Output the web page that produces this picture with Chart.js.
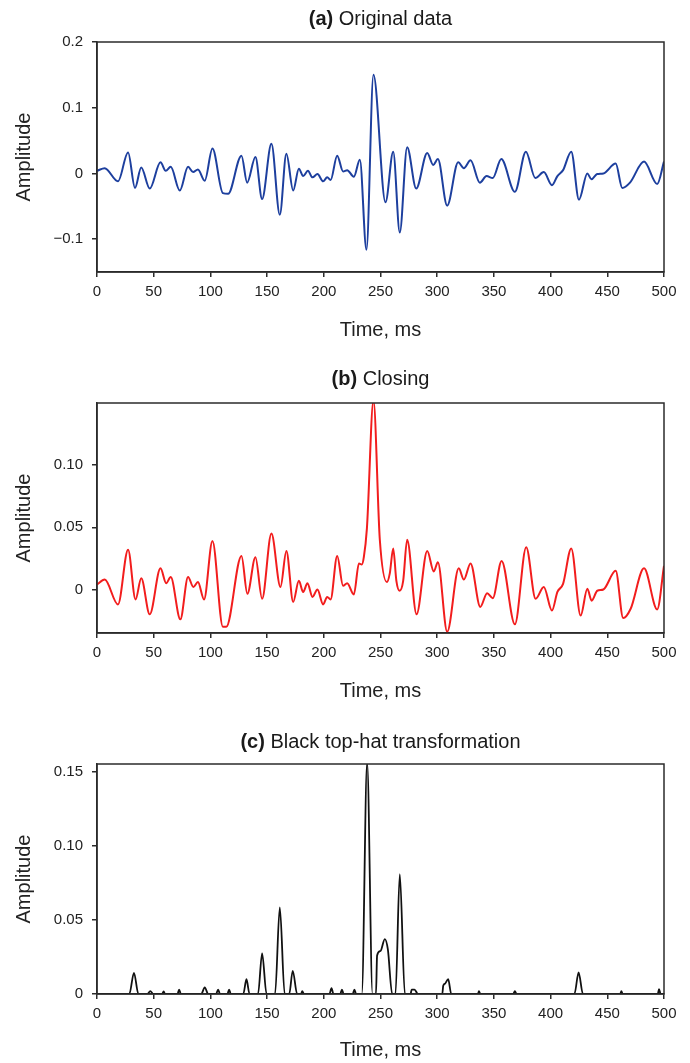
<!DOCTYPE html>
<html lang="en">
<head>
  <meta charset="UTF-8">
  <title>Black top-hat transformation</title>
  <style>
    body {
      margin: 0;
      width: 690px;
      height: 1063px;
      position: relative;
      overflow: hidden;
      background: #fff;
      font-family: "Liberation Sans", Arial, sans-serif;
    }
    canvas {
      position: absolute;
      left: 0;
    }
    .panel-title {
      position: absolute;
      left: 97px;
      width: 567px;
      text-align: center;
      font-size: 20px;
      line-height: 24px;
      color: #1a1a1a;
    }
  </style>
</head>
<body>
  <canvas id="chart-a" width="690" height="346" style="top:0px"></canvas>
  <canvas id="chart-b" width="690" height="361" style="top:346px"></canvas>
  <canvas id="chart-c" width="690" height="356" style="top:707px"></canvas>
  <div class="panel-title" style="top:6px"><b>(a)</b> Original data</div>
  <div class="panel-title" style="top:366px"><b>(b)</b> Closing</div>
  <div class="panel-title" style="top:729px"><b>(c)</b> Black top-hat transformation</div>
  <script src="https://cdn.jsdelivr.net/npm/chart.js"></script>
  <script>
    // (a) original trace, sampled at its turning points
    const timeA = [0, 6.8, 18.5, 27.4, 33.5, 39, 46.5, 56, 60.6, 65, 73, 80.3, 84.7, 89, 95, 101.8, 111, 115.6,
      127.4, 132.4, 139.7, 145.6, 153.8, 161.2, 167, 173, 178, 181.8, 186, 190, 194.4, 199.4, 203, 206,
      211.8, 217, 220.6, 226.5, 231.8, 237.6, 243.8, 254.4, 261.2, 267, 273.5, 281.5, 291.2, 296.5, 300.6,
      308.8, 318.5, 323.5, 329.4, 337.6, 343.5, 349, 356.5, 368.5, 378.2, 386.5, 394, 401.2, 406, 411,
      418.2, 425, 432.4, 436, 441, 446.5, 457.4, 463.2, 470, 482.4, 494, 500];
    const ampA = [0.004, 0.008, -0.012, 0.032, -0.022, 0.009, -0.023, 0.017, 0.004, 0.010, -0.026, 0.010, 0.002, 0.006, -0.011, 0.038, -0.030, -0.031,
      0.027, -0.014, 0.025, -0.039, 0.045, -0.063, 0.030, -0.026, 0.007, -0.004, 0.004, -0.006, -0.001, -0.012, -0.006, -0.010,
      0.027, 0.003, 0.005, -0.005, 0.021, -0.116, 0.150, -0.044, 0.033, -0.090, 0.040, -0.023, 0.031, 0.013, 0.022,
      -0.049, 0.017, 0.008, 0.020, -0.014, -0.004, -0.007, 0.022, -0.028, 0.033, -0.007, 0.002, -0.018, -0.004, 0.005,
      0.033, -0.040, 0.000, -0.009, -0.001, 0.000, 0.015, -0.022, -0.014, 0.018, -0.016, 0.018];

    // (b) closing of the trace
    const timeB = [0, 6.8, 18.5, 27.4, 34, 39, 46.5, 56, 61, 65, 73.5, 80.3, 85, 89, 94.4, 101.8, 111, 114,
      127.4, 132.6, 139.7, 145.6, 153.8, 161.8, 167, 173, 178, 181.8, 185.6, 190, 194.4, 199.4, 203, 206,
      211.8, 217, 220.6, 226.5, 231, 233.5, 235.3, 238, 243.8, 249.4, 255.6, 258.2, 261.2, 264, 266.8, 270,
      273.5, 281.8, 291.2, 297, 300.6, 308.8, 319, 323.5, 329.4, 338, 344, 349, 356.8, 368.5, 378.5, 386.8,
      394, 401.2, 406, 411, 418.2, 426.5, 432.4, 436.2, 441.2, 446.5, 457.4, 464, 470.6, 482.4, 494, 500];
    const ampB = [0.004, 0.008, -0.012, 0.032, -0.008, 0.009, -0.020, 0.017, 0.005, 0.010, -0.024, 0.010, 0.002, 0.006, -0.008, 0.039, -0.030, -0.030,
      0.027, -0.0035, 0.026, -0.0075, 0.045, 0.002, 0.031, -0.010, 0.007, -0.002, 0.005, -0.006, 0.000, -0.012, -0.006, -0.008,
      0.027, 0.003, 0.005, -0.004, 0.021, 0.020, 0.026, 0.049, 0.152, 0.040, 0.006, 0.013, 0.033, 0.007, -0.001, 0.007,
      0.040, -0.020, 0.031, 0.0145, 0.022, -0.034, 0.017, 0.008, 0.021, -0.014, -0.003, -0.007, 0.023, -0.028, 0.034, -0.0075,
      0.002, -0.017, -0.002, 0.0045, 0.033, -0.021, 0.0005, -0.009, -0.001, 0.000, 0.015, -0.023, -0.0155, 0.017, -0.016, 0.019];

    // (c) black top-hat = closing minus original
    const timeC = [0, 28.5, 32.6, 36.5, 44.5, 47, 49.5, 57.5, 58.8, 60, 71, 72.4, 74, 92, 95, 98, 105, 106.8, 108.5,
      115, 116.5, 118, 129, 131.8, 134.5, 142, 145.6, 149.5, 157, 161.2, 165.5, 169.5, 172.6, 176.5, 180, 181, 182.5,
      205, 206.8, 208.5, 214.5, 216, 217.5, 225.5, 227, 228.5, 233.5, 238.2, 243, 246, 247, 250, 253.8, 256.5, 260.3,
      263.2, 267, 271.5, 276.5, 277.5, 280, 283, 304.5, 305.3, 307, 309.7, 312.4, 336, 336.8, 338, 367, 368.5, 370,
      421, 424.7, 428.5, 461.5, 462.4, 463.5, 494.5, 495.6, 497, 500];
    const ampC = [0, 0, 0.0143, 0, 0, 0.002, 0, 0, 0.0018, 0, 0, 0.003, 0, 0, 0.0045, 0, 0, 0.003, 0,
      0, 0.003, 0, 0, 0.010, 0, 0, 0.0274, 0, 0, 0.0584, 0, 0, 0.0156, 0, 0, 0.002, 0,
      0, 0.004, 0, 0, 0.003, 0, 0, 0.003, 0, 0, 0.156, 0, 0, 0.026, 0.029, 0.037, 0.030, 0,
      0, 0.0807, 0, 0, 0.003, 0.003, 0, 0, 0.0056, 0.007, 0.010, 0, 0, 0.002, 0, 0, 0.002, 0,
      0, 0.0145, 0, 0, 0.002, 0, 0, 0.0033, 0, 0];

    const xTicks = [0, 50, 100, 150, 200, 250, 300, 350, 400, 450, 500];
    const yTicksA = [-0.1, 0, 0.1, 0.2];
    const yLabelsA = ['\u22120.1', '0', '0.1', '0.2'];
    const yTicksB = [0, 0.05, 0.10];
    const yLabelsB = ['0', '0.05', '0.10'];
    const yTicksC = [0, 0.05, 0.10, 0.15];
    const yLabelsC = ['0', '0.05', '0.10', '0.15'];

    const axisColor = '#2b2b2b';
    const textColor = '#222';
    Chart.defaults.font.family = '"Liberation Sans", Arial, sans-serif';

    // closes the box around the plot area (top and right edges)
    const frame = {
      id: 'frame',
      afterDatasetsDraw(chart) {
        const { ctx, chartArea: a } = chart;
        ctx.save();
        ctx.strokeStyle = axisColor;
        ctx.lineWidth = 1.5;
        ctx.strokeRect(a.left, a.top, a.right - a.left, a.bottom - a.top);
        ctx.restore();
      }
    };

    function makeChart(id, times, values, color, lineWidth, yMin, yMax, yTicks, yLabels, padTop, xHeight, titlePad) {
      const grid = { display: true, drawOnChartArea: false, drawTicks: true, tickLength: 5, color: axisColor, lineWidth: 1.5 };
      const border = { display: true, color: axisColor, width: 1.5 };
      return new Chart(document.getElementById(id), {
        type: 'line',
        data: {
          datasets: [{
            data: times.map((t, i) => ({ x: t, y: values[i] })),
            borderColor: color,
            borderWidth: lineWidth,
            pointRadius: 0,
            cubicInterpolationMode: 'monotone',
            fill: false
          }]
        },
        options: {
          responsive: false,
          animation: false,
          layout: { padding: { top: padTop, right: 26, bottom: 0, left: 0 } },
          plugins: { legend: { display: false }, tooltip: { enabled: false } },
          scales: {
            x: {
              type: 'linear',
              min: 0,
              max: 500,
              afterBuildTicks: s => { s.ticks = xTicks.map(v => ({ value: v })); },
              afterFit: s => { s.height = xHeight; },
              ticks: { padding: 6, color: textColor, font: { size: 15 }, maxRotation: 0, autoSkip: false },
              grid, border,
              title: { display: true, text: 'Time, ms', color: textColor, font: { size: 20 }, padding: { top: 0, bottom: titlePad } }
            },
            y: {
              min: yMin,
              max: yMax,
              afterBuildTicks: s => { s.ticks = yTicks.map(v => ({ value: v })); },
              afterFit: s => { s.width = 97; },
              ticks: { padding: 9, color: textColor, font: { size: 15 }, callback: (v, i) => yLabels[i] },
              grid, border,
              title: { display: true, text: 'Amplitude', color: textColor, font: { size: 20 }, padding: { top: 12, bottom: 0 } }
            }
          }
        },
        plugins: [frame]
      });
    }

    makeChart('chart-a', timeA, ampA, '#1d3f9e', 2, -0.15, 0.2, yTicksA, yLabelsA, 42, 74, 4);
    makeChart('chart-b', timeB, ampB, '#f21d1d', 2, -0.035, 0.15, yTicksB, yLabelsB, 57, 74, 4);
    makeChart('chart-c', timeC, ampC, '#111', 1.8, 0, 0.155, yTicksC, yLabelsC, 57, 69, 1);
  </script>
</body>
</html>
